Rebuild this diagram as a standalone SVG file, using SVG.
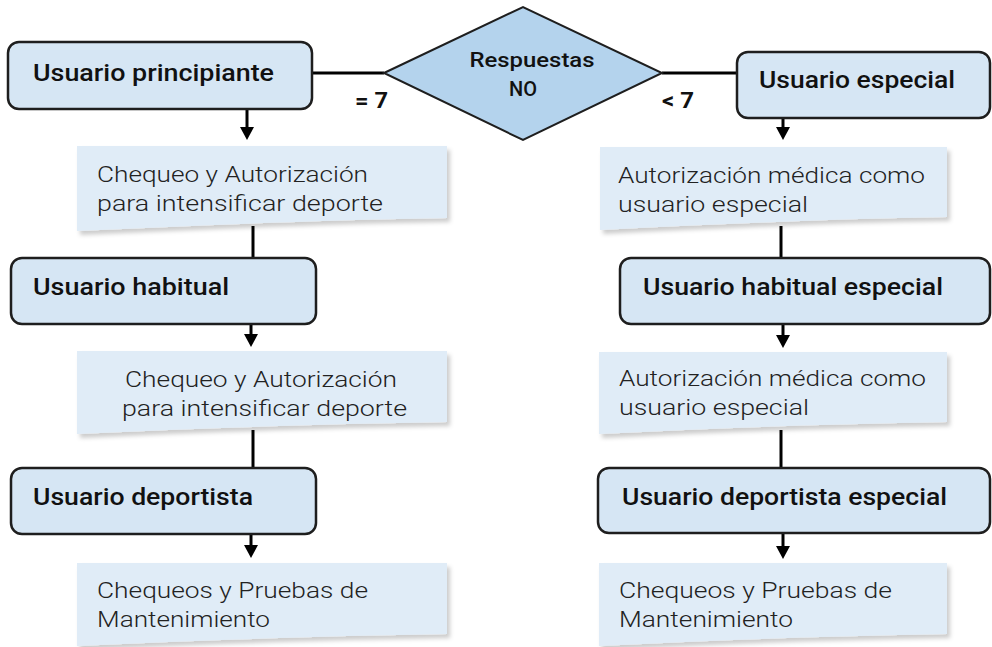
<svg xmlns="http://www.w3.org/2000/svg" width="992" height="647" viewBox="0 0 992 647">
<style>
.box{fill:#d6e6f4;stroke:#1e1e1e;stroke-width:2.5}
.note{fill:#e0ecf7;filter:url(#sh)}
.dia{fill:#b4d3ed;stroke:#1e1e1e;stroke-width:2}
.lbl{font-family:Roboto,"Liberation Sans",sans-serif;font-weight:500;font-size:24px;fill:#111}
.txt{font-family:Roboto,"Liberation Sans",sans-serif;font-weight:300;font-size:21.5px;fill:#222}
.dt{font-family:Roboto,"Liberation Sans",sans-serif;font-weight:500;font-size:20px;fill:#111}
.cond{font-family:Roboto,"Liberation Sans",sans-serif;font-weight:700;font-size:22px;fill:#111}
.ln{stroke:#000;stroke-width:3;fill:none}
</style>
<defs>
<filter id="sh" x="-5%" y="-5%" width="115%" height="125%">
<feDropShadow dx="3" dy="4" stdDeviation="2" flood-color="#000" flood-opacity="0.2"/>
</filter>
</defs>
<rect width="992" height="647" fill="#fff"/>
<g id="connectors">
<line class="ln" x1="312" y1="73" x2="384" y2="73"/>
<line class="ln" x1="662" y1="73" x2="737" y2="73"/>
<line class="ln" x1="247" y1="109" x2="247" y2="129"/>
<path d="M240,127 L254,127 L247,140 Z"/>
<line class="ln" x1="253" y1="226" x2="253" y2="258"/>
<line class="ln" x1="251" y1="324" x2="251" y2="336"/>
<path d="M244,334 L258,334 L251,347 Z"/>
<line class="ln" x1="253" y1="430" x2="253" y2="468"/>
<line class="ln" x1="251" y1="534" x2="251" y2="547"/>
<path d="M244,545 L258,545 L251,558 Z"/>
<line class="ln" x1="783" y1="118" x2="783" y2="129"/>
<path d="M776,127 L790,127 L783,140 Z"/>
<line class="ln" x1="781" y1="226" x2="781" y2="258"/>
<line class="ln" x1="783" y1="324" x2="783" y2="337"/>
<path d="M776,335 L790,335 L783,348 Z"/>
<line class="ln" x1="781" y1="430" x2="781" y2="468"/>
<line class="ln" x1="783" y1="533" x2="783" y2="548"/>
<path d="M776,546 L790,546 L783,559 Z"/>
<text class="cond" x="355" y="108" textLength="33" lengthAdjust="spacingAndGlyphs">= 7</text>
<text class="cond" x="662" y="108" textLength="32" lengthAdjust="spacingAndGlyphs">&lt; 7</text>
</g>
<g id="decision">
<polygon class="dia" points="384,73 523,7 662,73 523,140"/>
<text class="dt" x="532" y="67" text-anchor="middle" textLength="125" lengthAdjust="spacingAndGlyphs">Respuestas</text>
<text class="dt" x="523" y="96" text-anchor="middle">NO</text>
</g>
<g id="usuario-principiante">
<rect class="box" x="8" y="42" width="304" height="67" rx="11"/>
<text class="lbl" x="33" y="81" textLength="241" lengthAdjust="spacingAndGlyphs">Usuario principiante</text>
</g>
<g id="nota-l1">
<path class="note" d="M77,146 H447 V218 C330,220 200,225 77,231 Z"/>
<text class="txt" x="97" y="182" textLength="271" lengthAdjust="spacingAndGlyphs">Chequeo y Autorización</text>
<text class="txt" x="97" y="211" textLength="286" lengthAdjust="spacingAndGlyphs">para intensificar deporte</text>
</g>
<g id="usuario-habitual">
<rect class="box" x="11" y="258" width="305" height="66" rx="11"/>
<text class="lbl" x="33" y="295" textLength="196" lengthAdjust="spacingAndGlyphs">Usuario habitual</text>
</g>
<g id="nota-l2">
<path class="note" d="M77,351 H447 V422 C330,424 200,428 77,434 Z"/>
<text class="txt" x="125" y="387" textLength="272" lengthAdjust="spacingAndGlyphs">Chequeo y Autorización</text>
<text class="txt" x="122" y="416" textLength="285" lengthAdjust="spacingAndGlyphs">para intensificar deporte</text>
</g>
<g id="usuario-deportista">
<rect class="box" x="11" y="468" width="305" height="66" rx="11"/>
<text class="lbl" x="33" y="505" textLength="220" lengthAdjust="spacingAndGlyphs">Usuario deportista</text>
</g>
<g id="nota-l3">
<path class="note" d="M77,563 H447 V634 C330,636 200,640 77,646 Z"/>
<text class="txt" x="97" y="598" textLength="271" lengthAdjust="spacingAndGlyphs">Chequeos y Pruebas de</text>
<text class="txt" x="97" y="627" textLength="173" lengthAdjust="spacingAndGlyphs">Mantenimiento</text>
</g>
<g id="usuario-especial">
<rect class="box" x="737" y="52" width="253" height="66" rx="11"/>
<text class="lbl" x="759" y="88" textLength="196" lengthAdjust="spacingAndGlyphs">Usuario especial</text>
</g>
<g id="nota-r1">
<path class="note" d="M600,147 H947 V217 C830,219 720,224 600,230 Z"/>
<text class="txt" x="618" y="183" textLength="307" lengthAdjust="spacingAndGlyphs">Autorización médica como</text>
<text class="txt" x="618" y="212" textLength="190" lengthAdjust="spacingAndGlyphs">usuario especial</text>
</g>
<g id="usuario-habitual-especial">
<rect class="box" x="620" y="258" width="370" height="66" rx="11"/>
<text class="lbl" x="643" y="295" textLength="300" lengthAdjust="spacingAndGlyphs">Usuario habitual especial</text>
</g>
<g id="nota-r2">
<path class="note" d="M599,352 H947 V422 C830,424 720,428 599,434 Z"/>
<text class="txt" x="619" y="386" textLength="307" lengthAdjust="spacingAndGlyphs">Autorización médica como</text>
<text class="txt" x="619" y="415" textLength="190" lengthAdjust="spacingAndGlyphs">usuario especial</text>
</g>
<g id="usuario-deportista-especial">
<rect class="box" x="598" y="468" width="392" height="65" rx="11"/>
<text class="lbl" x="622" y="505" textLength="325" lengthAdjust="spacingAndGlyphs">Usuario deportista especial</text>
</g>
<g id="nota-r3">
<path class="note" d="M599,563 H947 V634 C830,636 720,640 599,646 Z"/>
<text class="txt" x="619" y="598" textLength="273" lengthAdjust="spacingAndGlyphs">Chequeos y Pruebas de</text>
<text class="txt" x="619" y="627" textLength="174" lengthAdjust="spacingAndGlyphs">Mantenimiento</text>
</g>
</svg>
